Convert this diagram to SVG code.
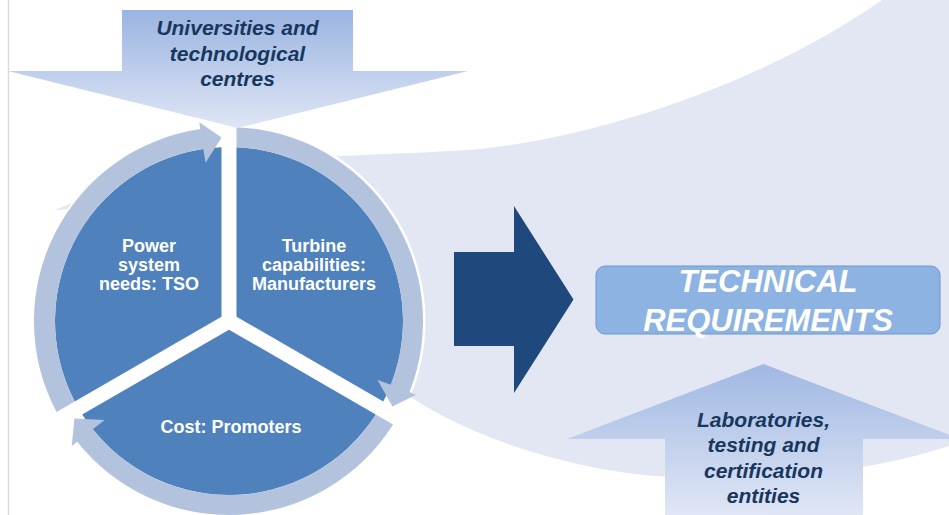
<svg xmlns="http://www.w3.org/2000/svg" width="949" height="515" viewBox="0 0 949 515">
  <defs>
    <linearGradient id="gTop" x1="0" y1="10" x2="0" y2="128" gradientUnits="userSpaceOnUse">
      <stop offset="0" stop-color="#9AB4E1"/>
      <stop offset="1" stop-color="#DFE6F5"/>
    </linearGradient>
    <linearGradient id="gBot" x1="0" y1="364" x2="0" y2="515" gradientUnits="userSpaceOnUse">
      <stop offset="0" stop-color="#A0B8E3"/>
      <stop offset="1" stop-color="#E0E6F5"/>
    </linearGradient>
    <style>
      .pie { fill: #4F81BD; }
      .ring { fill: #B3C3DE; }
      .pieTxt { font-family: "Liberation Sans", Arial, sans-serif; font-size: 18px; font-weight: bold; fill: #FFFFFF; text-anchor: middle; }
      .arrTxt { font-family: "Liberation Sans", Arial, sans-serif; font-size: 21px; font-weight: bold; font-style: italic; fill: #17375E; text-anchor: middle; }
      .reqTxt { font-family: "Liberation Sans", Arial, sans-serif; font-size: 31px; font-weight: bold; font-style: italic; fill: #FFFFFF; text-anchor: middle; }
    </style>
  </defs>

  <rect x="0" y="0" width="949" height="515" fill="#FFFFFF"/>
  <line x1="8.5" y1="0" x2="8.5" y2="515" stroke="#DCDCDC" stroke-width="1.5"/>

  <!-- background swoosh -->
  <path d="M882,0 L949,0 L949,446 C850,478 720,486 620,472 C520,456 445,422 402,391 C335,335 285,232 229,216 C170,204 100,207 55,210 C120,182 180,166 260,160 C350,155 420,153 470,150 C600,138 765,82 882,0 Z" fill="#E3E7F3"/>

  <!-- cycle -->
  <g id="cycle">
    <circle cx="229" cy="321" r="196.5" fill="#FFFFFF"/>
    <g id="node-power">
      <path class="pie" d="M221.5,316.67 L74.70,401.42 A174,174 0 0 1 221.5,147.16 Z"/>
      <path class="ring" d="M56.5,411.93 A194,194 0 0 1 200.3,129.1 L199.29,122.21 L221.6,137.5 L205.50,162.8 L203.28,148.91 A174,174 0 0 0 74.70,401.42 Z"/>
      <text class="pieTxt" x="149" y="252">Power</text>
      <text class="pieTxt" x="149" y="271">system</text>
      <text class="pieTxt" x="149" y="290">needs: TSO</text>
    </g>
    <g id="node-turbine">
      <path class="pie" d="M236.5,316.67 L236.5,147.16 A174,174 0 0 1 383.30,401.42 Z"/>
      <path class="ring" d="M236.5,127.14 A194,194 0 0 1 409.5,392.1 L416.01,394.67 L392.50,406.48 L377.5,380 L390.89,384.77 A174,174 0 0 0 236.5,147.16 Z"/>
      <text class="pieTxt" x="314" y="252">Turbine</text>
      <text class="pieTxt" x="314" y="271">capabilities:</text>
      <text class="pieTxt" x="314" y="290">Manufacturers</text>
    </g>
    <g id="node-cost">
      <path class="pie" d="M229,329.66 L375.80,414.42 A174,174 0 0 1 82.20,414.42 Z"/>
      <path class="ring" d="M393.1,424.4 A194,194 0 0 1 77.2,441.8 L71.70,446.12 L74.5,418.5 L104.56,419.98 L92.83,429.32 A174,174 0 0 0 375.80,414.42 Z"/>
      <text class="pieTxt" x="231" y="433">Cost: Promoters</text>
    </g>
  </g>

  <!-- inputs / outputs -->
  <g id="node-universities">
    <path d="M122,10 L353,10 L353,71 L468,71 L237.5,128 L8,71 L122,71 Z" fill="url(#gTop)"/>
    <text class="arrTxt" x="237.5" y="35">Universities and</text>
    <text class="arrTxt" x="237.5" y="60.5">technological</text>
    <text class="arrTxt" x="237.5" y="86">centres</text>
  </g>

  <g id="connectors">
    <path d="M454,252 L514,252 L514,206 L573.5,299.5 L514,393 L514,346 L454,346 Z" fill="#1F497D"/>
  </g>

  <g id="node-requirements">
    <rect x="596" y="266" width="344" height="68" rx="9" ry="9" fill="#8DB3E2" stroke="#6E96CC" stroke-width="1"/>
    <text class="reqTxt" x="768" y="291.5">TECHNICAL</text>
    <text class="reqTxt" x="768" y="331">REQUIREMENTS</text>
  </g>

  <g id="node-laboratories">
    <path d="M763.5,364 L960,439 L863,439 L863,520 L665,520 L665,439 L567,439 Z" fill="url(#gBot)"/>
    <text class="arrTxt" x="763.5" y="427">Laboratories,</text>
    <text class="arrTxt" x="763.5" y="452">testing and</text>
    <text class="arrTxt" x="763.5" y="477.5">certification</text>
    <text class="arrTxt" x="763.5" y="503">entities</text>
  </g>
</svg>
